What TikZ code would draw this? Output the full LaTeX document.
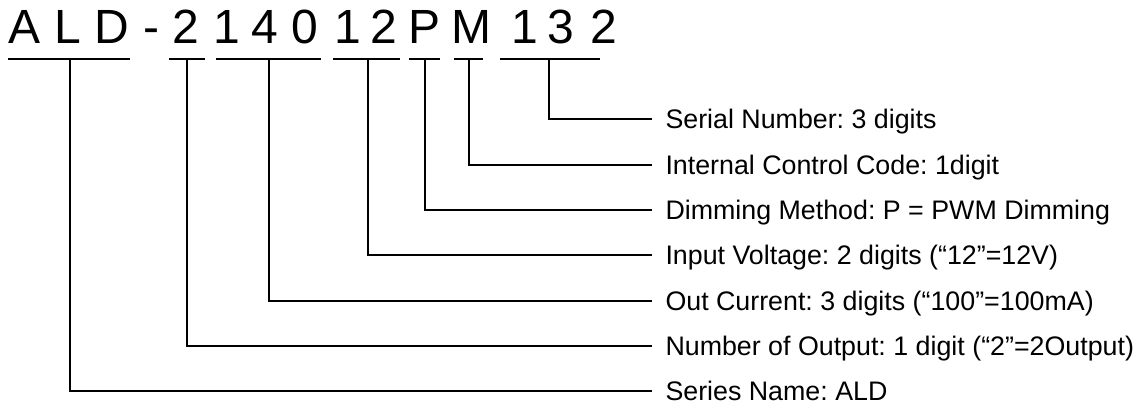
\documentclass[tikz,border=0pt]{standalone}
\usepackage{fontspec}
\setmainfont{Liberation Sans}
\usepackage{tikz}
\frenchspacing

\tikzset{
  glyph/.style={anchor=base, inner sep=0pt, font=\fontsize{48}{48}\selectfont},
  field/.style={anchor=west, inner xsep=13pt, inner ysep=0pt, text height=19pt, text depth=0pt, font=\fontsize{26.8}{30}\selectfont},
  bar/.style={line width=2pt},
  lead/.style={line width=2pt}
}

\begin{document}
\begin{tikzpicture}[x=1pt, y=-1pt, line cap=butt]
\useasboundingbox (0,0) rectangle (1135,405);
% part number, one glyph per node
\foreach \ch/\xx [count=\i] in {A/25, L/68, D/111.5, -/151, 2/185.4, 1/226.7, 4/264.7, 0/305, 1/347.5, 2/384.3, P/424.2, M/471, 1/524.7, 3/561.3, 2/603.8}
  \node (c\i) at (\xx,43.3) [glyph] {\ch};
% underlines and stem tops
\foreach \a/\b/\m [count=\i] in {8.3/130/70, 169/205/187.3, 216/321/269.3, 333/400/367.7, 409/440/425, 454/483/469.3, 500/600/549}
{
  \coordinate (ul\i) at (\a,59.3);
  \coordinate (ur\i) at (\b,59.3);
  \coordinate (s\i) at (\m,59.3);
  \draw[bar] (ul\i) -- (ur\i);
}
\node (f7) at (652.3,119.3) [field] {Serial Number: 3 digits};
\node (f6) at (652.3,164.6) [field] {Internal Control Code: 1digit};
\node (f5) at (652.3,209.9) [field] {Dimming Method: P = PWM Dimming};
\node (f4) at (652.3,255.2) [field] {Input Voltage: 2 digits (“12”=12V)};
\node (f3) at (652.3,300.5) [field] {Out Current: 3 digits (“100”=100mA)};
\node (f2) at (652.3,345.8) [field] {Number of Output: 1 digit (“2”=2Output)};
\node (f1) at (652.3,391.1) [field] {Series Name: ALD};
\foreach \i in {1,...,7}
  \draw[lead] (s\i) |- (f\i.west);
\end{tikzpicture}
\end{document}
